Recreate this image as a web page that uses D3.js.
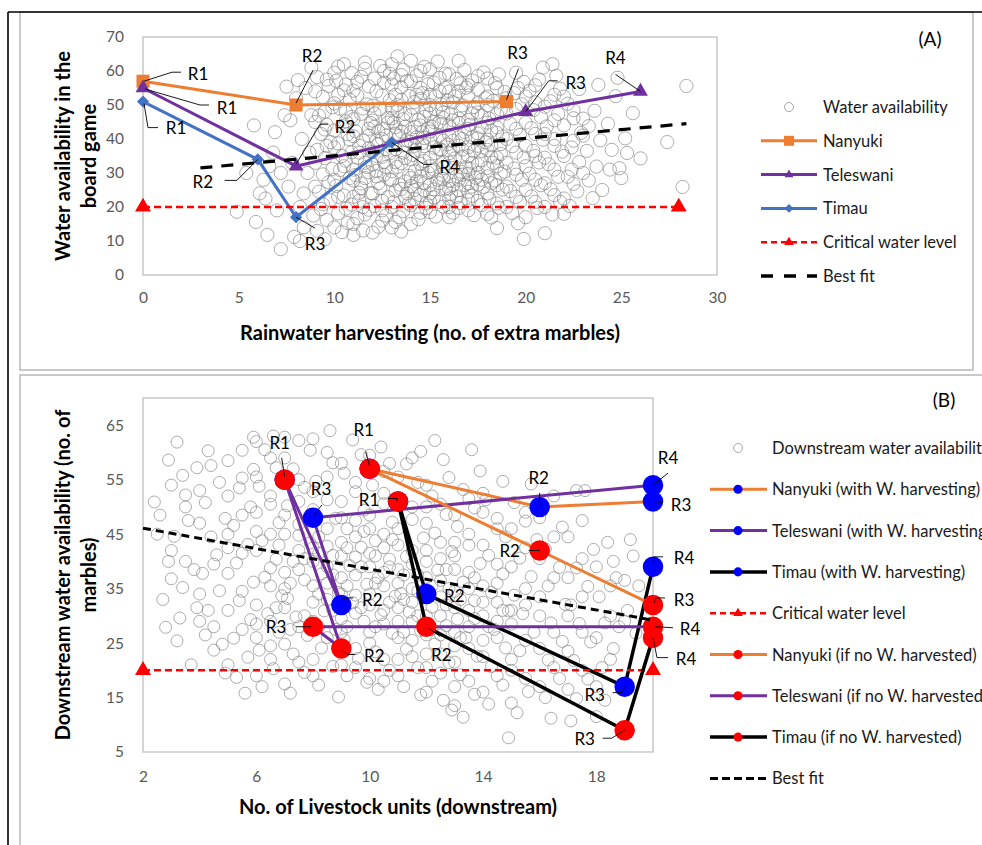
<!DOCTYPE html>
<html><head><meta charset="utf-8">
<script src="https://cdn.jsdelivr.net/npm/d3@7/dist/d3.min.js"></script>
<style>
html,body{margin:0;padding:0;background:#fff;overflow:hidden;}
svg{display:block;font-family:Lato,"Open Sans",sans-serif;}
</style></head><body>
<svg id="chart" width="982" height="845"></svg>
<script>
// ---------------- DATA ----------------
const scatterA = [
[4.9,18.6],[5.9,15.6],[6.5,11.8],[7.2,7.6],[7.9,11.2],[5.8,44],[6.1,24],[6.4,22.5],[7.5,55.4],[8.1,57.3],
[6.8,36],[7.2,30],[7.6,26],[8.2,20],[6.9,42],[7.4,47],[8.0,52],[8.4,14],[7.0,19],[7.8,33],
[8.3,40],[6.3,28],[7.7,45.5],[8.4,24],[8.6,30],[8.8,47],[8.7,36],[8.2,10],[6.6,32],[5.4,30],
[8.9,17.5],[8.5,55],[8.8,61],
[9.1,13],[9.6,16.2],[9.3,19.4],[9.8,22],[9.2,24.5],[9.7,27.3],[9.4,29.6],[9.9,31.2],[9.5,34.4],[9.1,36.8],
[9.8,39.1],[9.3,41.5],[9.6,44.2],[9.2,46.9],[9.9,49.3],[9.4,52.4],[9.7,55.6],[9.1,58.2],[10.2,61.3],
[10.4,12.6],[10.7,15.3],[10.2,18.1],[10.9,20.7],[10.5,23.4],[10.1,26.2],[10.8,28.5],[10.3,30.9],[10.6,33.6],[10.9,36.1],
[10.2,38.7],[10.7,41.4],[10.4,43.8],[10.9,46.5],[10.3,48.9],[10.8,51.6],[10.5,54.3],[10.1,57.1],[10.9,59.4],[10.5,62.0],
[11.5,13.1],[11.2,16.7],[11.8,19.2],[11.3,21.8],[11.9,24.1],[11.4,26.9],[11.1,29.4],[11.7,31.8],[11.2,34.5],[11.8,37.2],
[11.5,39.6],[11.1,42.3],[11.9,44.7],[11.4,47.4],[11.7,50.2],[11.2,52.8],[11.8,55.5],[11.4,58.3],[11.6,60.6],
[12.3,14.2],[12.7,17.5],[12.1,20.3],[12.8,22.9],[12.4,25.5],[12.9,28.1],[12.2,30.6],[12.6,33.2],[12.9,35.8],[12.3,38.4],
[12.7,41.0],[12.1,43.6],[12.8,46.2],[12.4,48.8],[12.9,51.4],[12.2,54.0],[12.6,56.6],[12.9,59.2],[12.4,61.5],
[13.2,15.6],[13.6,18.8],[13.1,21.4],[13.8,24.0],[13.4,26.6],[13.9,29.2],[13.3,31.8],[13.7,34.4],[13.2,37.0],[13.8,39.6],
[13.5,42.2],[13.1,44.8],[13.7,47.4],[13.3,50.0],[13.9,52.6],[13.5,55.2],[13.1,57.8],[13.6,60.4],[13.3,64.3],
[14.4,16.4],[14.8,19.7],[14.2,22.3],[14.7,24.9],[14.3,27.5],[14.9,30.1],[14.5,32.7],[14.1,35.3],[14.7,37.9],[14.3,40.5],
[14.9,43.1],[14.4,45.7],[14.8,48.3],[14.2,50.9],[14.6,53.5],[14.9,56.1],[14.3,58.7],[14.7,61.2],
[15.3,17.2],[15.7,20.1],[15.2,22.8],[15.8,25.4],[15.4,28.0],[15.1,30.6],[15.7,33.2],[15.3,35.8],[15.9,38.4],[15.5,41.0],
[15.1,43.6],[15.7,46.2],[15.3,48.8],[15.9,51.4],[15.5,54.0],[15.2,56.6],[15.8,59.2],[15.4,62.8],
[16.2,18.3],[16.6,21.2],[16.1,23.9],[16.8,26.5],[16.4,29.1],[16.9,31.7],[16.3,34.3],[16.7,36.9],[16.2,39.5],[16.8,42.1],
[16.5,44.7],[16.1,47.3],[16.7,49.9],[16.3,52.5],[16.9,55.1],[16.4,57.7],[16.5,63.0],[16.8,60.3],
[17.3,17.6],[17.7,20.6],[17.2,23.3],[17.8,25.9],[17.4,28.6],[17.1,31.2],[17.7,33.8],[17.3,36.4],[17.9,39.0],[17.5,41.6],
[17.1,44.2],[17.7,46.8],[17.3,49.4],[17.9,52.0],[17.5,54.6],[17.2,57.2],[17.8,59.6],
[18.2,16.9],[18.6,19.8],[18.1,22.5],[18.8,25.1],[18.4,27.8],[18.9,30.4],[18.3,33.0],[18.7,35.6],[18.2,38.2],[18.8,40.8],
[18.5,43.4],[18.1,46.0],[18.7,48.6],[18.3,51.2],[18.9,53.8],[18.4,56.4],[18.6,59.0],[18.5,13.8],
[19.3,18.2],[19.7,21.5],[19.2,24.7],[19.8,28.0],[19.4,31.3],[19.9,34.6],[19.3,37.9],[19.7,41.2],[19.2,44.5],[19.8,50.2],
[19.4,53.5],[19.9,56.8],[19.5,59.5],[19.9,10.6],[19.6,15.2],
[20.6,19.7],[20.3,23.1],[20.8,26.4],[20.2,29.8],[20.7,33.1],[20.4,36.5],[20.9,39.8],[20.3,43.2],[20.8,46.5],[20.5,50.8],
[20.2,54.2],[20.7,57.5],[21.0,12.3],[20.9,61],
[21.4,17.8],[21.8,21.5],[21.3,25.2],[21.7,28.9],[21.2,32.6],[21.9,36.3],[21.5,40.0],[21.1,43.7],[21.7,47.4],[21.3,51.1],
[21.8,54.8],[21.4,62],[21.6,58.6],
[22.3,20.3],[22.7,24.6],[22.2,28.9],[22.8,33.2],[22.4,37.5],[22.9,41.8],[22.5,46.1],[22.2,50.4],[22.8,54.7],[22.4,31],[22.0,18],
[23.3,27.8],[23.7,31.9],[23.3,43.8],[23.6,48.3],[23.8,55.9],[23.2,36.5],[24.0,25],[23.9,39.6],[23.5,22.6],
[24.4,31],[24.9,31.4],[25.3,35.9],[25.6,47.6],[24.7,52.6],[24.3,44.5],[25.0,28.5],[25.2,40.2],[24.5,36.8],[26.0,34.3],[24.8,58.0],
[27.4,39.1],[28.2,25.9],[28.4,55.6],
[11.0,27.8],[11.6,33.0],[12.0,36.2],[12.5,40.0],[12.0,45.4],[13.0,27.9],[13.5,32.9],[13.0,38.3],[13.4,40.9],[13.0,46.1],
[14.0,26.2],[14.5,29.0],[14.0,34.0],[14.0,39.2],[14.6,42.0],[14.0,47.0],[15.0,24.0],[15.5,27.0],[15.0,32.0],[15.6,36.8],
[15.0,40.0],[15.6,44.4],[15.0,50.0],[16.0,25.4],[16.5,28.0],[16.0,33.0],[16.5,38.0],[16.0,41.2],[16.5,46.0],[17.0,27.0],
[17.5,30.0],[17.0,35.0],[17.5,38.0],[17.0,43.0],[17.5,47.8],[18.0,29.0],[18.5,32.0],[18.0,36.8],[18.5,41.8],[18.0,44.8],
[10.5,32.0],[10.0,37.5],[10.6,45.2],[11.0,40.8],[12.3,27.0],[13.7,23.0],[14.8,21.0],[16.0,20.0],[17.0,22.0],[12.0,49.8],
[13.2,53.0],[14.5,51.8],[15.8,55.0],[16.2,50.8],[17.0,52.8],[18.0,50.0],[11.2,56.8],[10.0,50.5],[9.5,42.8],[9.0,33.0],
[10.2,23.0],[11.5,20.0],[12.5,16.0],[13.5,12.8],[11.0,11.8],[9.5,10.5],
[9.4,20.8],[9.0,26.0],[9.6,38.0],[9.0,45.0],[9.5,48.0],[9.0,54.0],[9.6,57.5],
[10.0,14.0],[10.6,19.5],[10.0,28.0],[10.4,35.0],[10.8,39.9],[10.0,42.5],[10.6,48.0],[10.2,53.0],[10.6,56.0],[10.0,59.5],
[11.0,15.0],[11.6,17.8],[11.0,23.0],[11.4,25.5],[11.6,28.5],[11.0,31.0],[11.3,36.0],[11.8,41.0],[11.0,45.8],[11.5,49.0],[11.0,54.2],[11.6,62.5],
[12.0,12.5],[12.5,19.0],[12.0,24.0],[12.6,29.5],[12.0,32.5],[12.5,34.8],[12.2,39.5],[12.6,43.0],[12.1,47.5],[12.5,52.8],[12.1,57.8],[12.6,60.0],
[13.0,14.0],[13.4,17.0],[13.0,20.0],[13.5,25.3],[13.0,30.5],[13.6,36.0],[13.2,43.5],[13.6,45.8],[13.0,49.0],[13.5,51.5],[13.0,56.0],[13.5,58.8],[13.0,62.0],
[14.0,15.0],[14.5,18.3],[14.0,20.5],[14.5,23.5],[14.0,28.5],[14.6,31.2],[14.2,36.6],[14.6,38.8],[14.0,42.0],[14.5,44.0],[14.1,49.2],[14.5,55.0],[14.0,57.0],[14.5,60.0],[14.0,63.0],
[15.0,18.5],[15.5,21.5],[15.0,26.5],[15.6,29.5],[15.0,34.5],[15.5,37.0],[15.0,42.2],[15.5,45.0],[15.0,47.5],[15.6,50.2],[15.0,53.0],[15.5,58.0],[15.0,60.5],
[16.0,17.0],[16.5,19.7],[16.0,22.5],[16.5,25.0],[16.0,27.8],[16.6,30.4],[16.0,35.8],[16.5,40.5],[16.0,44.0],[16.6,48.5],[16.0,54.0],[16.6,56.4],[16.0,59.0],
[17.0,19.0],[17.5,21.8],[17.0,24.5],[17.5,26.6],[17.0,29.8],[17.5,32.5],[17.0,37.6],[17.5,40.2],[17.0,45.6],[17.5,50.5],[17.0,55.8],[17.5,58.5],
[18.0,18.0],[18.5,21.0],[18.0,24.0],[18.5,26.4],[18.0,31.5],[18.5,34.5],[18.0,39.8],[18.5,47.2],[18.0,52.5],[18.5,55.0],[18.0,57.8],
[19.0,20.0],[19.5,23.0],[19.0,26.0],[19.5,29.5],[19.0,33.0],[19.5,36.0],[19.0,40.0],[19.5,43.0],[19.0,47.5],[19.5,48.8],[19.0,52.0],[19.6,55.0],
[20.0,17.0],[20.5,21.5],[20.0,25.0],[20.5,28.0],[20.0,32.0],[20.5,35.0],[20.0,38.0],[20.5,41.5],[20.0,44.8],[20.4,48.5],[20.0,52.5],[20.5,55.8],
[21.0,20.0],[21.5,23.5],[21.0,27.0],[21.5,31.0],[21.0,34.5],[21.5,38.0],[21.0,41.5],[21.5,45.5],[21.0,49.5],[21.5,53.0],
[22.0,22.5],[22.5,26.8],[22.0,35.0],[22.5,39.5],[22.0,44.0],[22.5,48.5],[22.0,52.5],[23.0,30.0],[23.0,41.0],[23.0,46.0],
[11.3,24.2],[11.8,30.2],[11.3,38.0],[11.8,43.0],[12.2,29.0],[12.7,31.8],[12.2,35.0],[12.7,37.0],[12.3,42.3],[12.8,44.8],
[13.2,24.8],[13.7,27.5],[13.2,33.2],[13.7,38.2],[13.2,41.5],[13.7,43.6],[13.3,48.2],[14.2,25.0],[14.7,27.0],[14.2,30.5],
[14.7,33.5],[14.2,38.0],[14.7,40.3],[14.2,43.5],[14.7,46.5],[15.2,25.2],[15.7,28.2],[15.2,31.0],[15.7,31.5],[15.2,37.5],
[15.7,39.5],[15.2,45.0],[15.7,47.8],[16.2,26.5],[16.7,29.5],[16.2,31.5],[16.7,34.8],[16.2,37.0],[16.7,40.0],[16.2,45.5],
[17.2,26.0],[17.7,28.0],[17.2,33.0],[17.7,36.5],[17.2,40.5],[17.7,43.5],[17.2,47.5],[18.2,27.0],[18.7,29.8],[18.2,34.8],
[18.7,38.5],[18.2,42.5],[13.9,21.0],[15.0,21.5],[16.4,23.0],[12.5,21.8],[14.3,53.0],[15.3,52.5],[16.5,54.0],[13.8,57.0]
];

const scatterB = [
[2.4,50.9],[2.6,48.5],[2.9,58.6],[2.8,27.9],[2.5,45],[2.9,40],[2.7,33],
[3.2,61.9],[3.4,55.8],[3.3,29.6],[3.7,21],[3.5,52.2],[3.1,44.6],[3.8,38.5],[3.4,35.2],[3.6,47.5],[3.9,57.2],[3.2,25.4],[3.9,31.5],
[4.5,23.7],[4.2,26.5],[4.8,24.8],[4.3,31.0],[4.7,34.6],[4.1,37.8],[4.6,41.2],[4.4,44.5],[4.9,47.9],[4.2,50.8],[4.7,54.5],[4.4,57.6],[4.9,19.5],[4.3,60.3],
[5.3,18.7],[5.7,22.4],[5.2,25.9],[5.8,29.3],[5.4,32.8],[5.9,36.2],[5.3,39.7],[5.7,43.1],[5.2,46.6],[5.8,50.0],[5.4,53.5],[5.9,56.9],[5.5,60.4],[5.9,62.8],[5.6,15.8],
[6.2,17.0],[6.6,20.3],[6.1,23.7],[6.8,27.0],[6.4,30.4],[6.9,33.7],[6.3,37.1],[6.7,40.4],[6.2,43.8],[6.8,47.1],[6.5,50.5],[6.1,53.8],[6.7,57.2],[6.3,60.5],[6.6,63.0],
[7.2,15.8],[7.7,19.6],[7.3,23.0],[7.8,26.4],[7.4,29.8],[7.1,33.2],[7.7,36.6],[7.3,40.0],[7.9,43.4],[7.5,46.8],[7.1,50.2],[7.7,53.6],[7.3,57.0],[7.9,60.4],[7.5,62.2],
[8.2,17.3],[8.7,20.7],[8.3,24.1],[8.8,27.5],[8.4,30.9],[8.9,34.3],[8.3,37.7],[8.7,41.1],[8.2,44.5],[8.8,47.9],[8.5,51.3],[8.1,54.7],[8.7,58.1],[8.6,64.0],[8.9,15.1],
[9.2,19.0],[9.6,22.2],[9.1,25.6],[9.8,29.0],[9.4,32.4],[9.9,35.8],[9.3,39.2],[9.7,42.6],[9.2,46.0],[9.8,49.4],[9.5,52.8],[9.1,56.2],[9.7,59.6],[9.9,17.8],[9.4,62.3],
[10.3,16.5],[10.7,20.0],[10.2,23.4],[10.8,26.8],[10.4,30.2],[10.9,33.6],[10.3,37.0],[10.7,40.4],[10.2,43.8],[10.8,47.2],[10.5,50.6],[10.1,54.0],[10.7,58.0],[10.4,61.0],
[11.2,17.0],[11.7,20.5],[11.3,23.9],[11.8,27.3],[11.4,30.7],[11.1,34.1],[11.7,37.5],[11.3,40.9],[11.9,44.3],[11.5,47.7],[11.1,51.1],[11.7,54.5],[11.3,57.9],[11.8,60.2],
[12.6,14.5],[12.9,12.7],[12.2,18.0],[12.8,21.4],[12.3,24.8],[12.7,28.2],[12.2,31.6],[12.8,35.0],[12.4,38.4],[12.9,41.8],[12.3,45.2],[12.7,48.6],[12.2,52.0],[12.8,55.4],[12.3,62.2],[12.6,58.7],
[13.3,11.4],[13.7,15.6],[13.2,19.2],[13.8,22.6],[13.4,26.0],[13.1,29.4],[13.7,32.8],[13.3,36.2],[13.9,39.6],[13.5,43.0],[13.1,46.4],[13.7,49.8],[13.3,53.2],[13.6,60.5],[13.9,56.6],
[14.2,13.8],[14.7,17.3],[14.3,20.7],[14.8,24.1],[14.4,27.5],[14.9,30.9],[14.3,34.3],[14.7,37.7],[14.2,41.1],[14.8,44.5],[14.5,47.9],[14.1,51.3],[14.7,54.7],[14.9,7.6],
[15.2,12.2],[15.0,20.0],[15.6,16.1],[15.3,23.6],[15.8,27.0],[15.4,30.4],[15.1,33.8],[15.7,37.2],[15.3,40.6],[15.9,44.0],[15.5,47.4],[15.1,50.8],[15.7,54.2],
[16.4,11.2],[16.2,15.0],[16.7,18.5],[16.3,21.9],[16.8,25.3],[16.4,28.7],[16.9,32.1],[16.3,35.5],[16.7,38.9],[16.8,46.3],[16.2,42.3],[16.5,52.0],
[17.1,10.7],[17.3,14.8],[17.7,18.4],[17.2,21.8],[17.8,25.2],[17.4,28.6],[17.1,32.0],[17.7,35.4],[17.3,38.8],[17.9,42.2],[17.3,53.0],[17.6,53.0],[17.5,47.5],
[18.3,28.7],[18.4,43.5],[18.5,30.0],[18.8,28.0],[18.2,20.5],[18.6,24.0],[18.1,33.5],[18.7,37.0],[18.3,14.5],[18.6,40.0],
[19.3,41.0],[19.4,26.8],[19.2,44.0],[19.1,31.0],[19.5,35.5],
[6.0,28.5],[6.5,35.5],[7.0,31.5],[7.5,38.5],[7.0,45.0],[8.0,32.5],[8.5,36.0],[8.0,40.0],[8.5,42.8],[8.0,49.5],
[9.0,27.0],[9.5,30.5],[9.0,34.0],[9.5,37.5],[9.0,41.0],[9.5,44.5],[9.0,48.0],[10.0,25.0],[10.5,28.5],[10.0,32.0],
[10.5,35.5],[10.0,39.0],[10.5,42.5],[10.0,46.0],[11.0,22.0],[11.5,25.5],[11.0,29.0],[11.5,32.5],[11.0,36.0],[11.5,39.5],
[11.0,43.0],[12.0,23.0],[12.5,26.5],[12.0,30.0],[12.5,33.5],[12.0,37.0],[12.5,40.5],[13.0,24.5],[13.5,28.0],[13.0,31.5],
[13.5,35.0],[13.0,38.5],[14.0,25.5],[14.5,29.0],[14.0,32.5],[14.5,36.0],[15.0,28.5],[15.5,32.0],[16.0,30.0],[6.0,45.5],
[7.5,51.0],[8.5,55.5],[10.5,56.5],[12.0,50.0],[14.0,49.0],[4.0,29.0],[5.0,42.5],[6.5,24.5],[8.0,22.0],[9.5,20.5],
[10.5,18.0],[11.8,15.5],[13.0,17.0],
[3.0,54.0],[3.5,50.0],[3.0,42.0],[3.5,40.0],[3.0,36.8],[4.0,34.0],[4.5,39.5],[4.0,53.0],[4.5,28.0],[4.0,47.0],
[5.0,21.0],[5.5,27.5],[5.0,31.0],[5.5,34.5],[5.0,37.8],[5.5,41.5],[5.0,45.0],[5.5,48.5],[5.0,52.0],[5.5,55.3],[5.0,58.5],
[6.0,19.0],[6.5,22.0],[6.0,26.0],[6.5,29.0],[6.0,32.0],[6.5,38.8],[6.0,42.0],[6.5,45.0],[6.0,49.0],[6.5,52.0],[6.0,55.5],[6.5,59.0],[6.0,62.0],
[7.0,17.5],[7.5,21.5],[7.0,24.8],[7.5,28.0],[7.0,35.0],[7.5,42.0],[7.0,38.0],[7.5,44.8],[7.0,48.5],[7.5,55.0],[7.0,59.0],[7.0,62.8],
[8.0,19.0],[8.5,26.0],[8.0,29.0],[8.5,33.0],[8.0,35.5],[8.5,39.0],[8.0,42.5],[8.5,46.0],[8.0,52.8],[8.5,60.0],[8.0,62.5],
[9.0,21.0],[9.5,24.0],[9.0,29.5],[9.5,33.8],[9.0,37.0],[9.5,40.8],[9.0,43.5],[9.5,47.5],[9.0,51.0],[9.5,54.5],[9.0,58.0],
[10.0,18.5],[10.5,22.0],[10.0,27.0],[10.5,31.0],[10.0,34.0],[10.5,38.0],[10.0,41.5],[10.5,45.0],[10.0,48.5],[10.5,52.5],[10.0,59.5],
[11.0,19.0],[11.5,22.5],[11.0,26.0],[11.5,29.0],[11.0,31.5],[11.5,35.0],[11.0,38.5],[11.5,42.0],[11.0,46.0],[11.5,50.0],[11.0,55.5],[11.5,59.0],
[12.0,16.0],[12.5,19.5],[12.0,20.5],[12.5,23.0],[12.0,26.5],[12.5,30.0],[12.0,33.5],[12.5,36.5],[12.0,40.0],[12.5,43.5],[12.0,47.0],[12.5,50.5],[12.0,54.0],
[13.0,13.5],[13.5,18.0],[13.0,21.5],[13.5,24.0],[13.0,27.0],[13.5,31.0],[13.0,34.5],[13.5,38.0],[13.0,41.0],[13.5,45.0],[13.0,48.5],[13.5,51.5],
[14.0,16.0],[14.5,19.0],[14.0,22.5],[14.5,26.0],[14.0,30.0],[14.5,32.5],[14.0,35.5],[14.5,39.5],[14.0,43.0],[14.5,46.0],[14.0,52.5],
[15.0,14.0],[15.5,18.5],[15.0,22.0],[15.5,25.5],[15.0,31.0],[15.5,35.0],[15.0,39.0],[15.5,42.5],[15.0,46.0],[15.5,49.0],
[16.0,17.0],[16.5,20.5],[16.0,24.0],[16.5,27.0],[16.0,33.5],[16.5,37.0],[16.0,40.5],[16.5,44.5],[16.0,48.0],
[17.0,16.5],[17.5,20.0],[17.0,23.5],[17.5,27.0],[17.0,30.0],[17.5,33.5],[17.0,37.0],[17.5,40.5],[17.0,44.5],
[18.0,17.0],[18.5,22.0],[18.0,26.0],[18.5,35.5],[18.0,39.0],[19.0,29.0],[19.0,36.5],[18.0,11.5],
[8.2,28.0],[8.7,31.0],[8.2,34.0],[8.7,37.5],[8.2,41.5],[9.2,28.0],[9.7,31.5],[9.2,35.5],[9.7,39.0],[9.2,42.5],
[10.2,28.0],[10.7,32.5],[10.2,36.0],[10.7,39.0],[10.2,41.0],[11.2,27.0],[11.7,30.0],[11.2,33.0],[11.7,34.5],[11.2,37.5],
[12.2,27.5],[12.7,32.0],[12.2,35.5],[12.7,38.5],[13.2,26.0],[13.7,29.5],[13.2,33.0],[13.7,37.0],[14.2,28.0],[14.7,31.0],
[7.2,27.5],[7.7,30.0],[7.2,36.0],[7.7,40.5],[6.7,31.5],[6.8,43.0],[9.8,45.5],[10.8,44.0],[12.0,42.0],[13.0,43.5]
];

// Panel A series (x = rainwater harvesting, y = water availability)
const nanyukiA   = [[0,57],[8,50],[19,51]];
const teleswaniA = [[0,55],[8,32],[20,48],[26,54]];
const timauA     = [[0,51],[6,34],[8,17],[13,39]];
const criticalA  = [[0,20],[28,20]];
const bestFitA   = [[3,31.5],[28.4,44.5]];

// Panel B series (x = livestock units, y = downstream water availability)
const nanyukiWithB   = [[10,57],[16,50],[20,51]];
const teleswaniWithB = [[7,55],[9,32],[8,48],[20,54]];
const timauWithB     = [[11,51],[12,34],[19,17],[20,39]];
const nanyukiNoB     = [[10,57],[16,42],[20,32]];
const teleswaniNoB   = [[7,55],[9,24],[8,28],[20,28]];
const timauNoB       = [[11,51],[12,28],[19,9],[20,26]];
const criticalB      = [[2,20],[20,20]];
const bestFitB       = [[2,46.1],[20,29.2]];

const roundLabels = ["R1","R2","R3","R4"];
const xTicksA = [0,5,10,15,20,25,30];
const yTicksA = [0,10,20,30,40,50,60,70];
const xTicksB = [2,6,10,14,18];
const yTicksB = [5,15,25,35,45,55,65];
const legendA = ["Water availability","Nanyuki","Teleswani","Timau","Critical water level","Best fit"];
const legendB = ["Downstream water availability","Nanyuki (with W. harvesting)","Teleswani (with W. harvesting)",
  "Timau (with W. harvesting)","Critical water level","Nanyuki (if no W. harvested)",
  "Teleswani (if no W. harvested)","Timau (if no W. harvested)","Best fit"];
const titlesA = {x:"Rainwater harvesting (no. of extra marbles)", y:["Water availability in the","board game"], tag:"(A)"};
const titlesB = {x:"No. of Livestock units (downstream)", y:["Downstream water availability (no. of","marbles)"], tag:"(B)"};

// ---------------- LAYOUT (label placement, pixels) ----------------
const labLayoutA = {
  nanyuki:   [{dx:55,dy:-8,l:[[1,0],[29,-9],[38,-9]]},{dx:16,dy:-50,l:[[0,-2],[17,-35]]},{dx:11,dy:-49,l:[[0,-2],[12,-33]]}],
  teleswani: [{dx:84,dy:19,l:[[2,1],[57,17],[66,17]]},{dx:49,dy:-40,l:[[0,-2],[24,-42],[32,-42]]},{dx:50,dy:-29,l:[[0,0],[23,-31],[32,-31]]},{dx:-25,dy:-34,l:[[0,0],[-25,-17]]}],
  timau:     [{dx:33,dy:26,l:[[1,2],[5,26],[15,26]]},{dx:-55,dy:22,l:[[0,0],[-21,21],[-33,21]]},{dx:19,dy:26,l:[[0,0],[19,11]]},{dx:58,dy:24,l:[[0,0],[32,22],[40,22]]}]
};
const labLayoutB = {
  nanyukiWith:   [{dx:-6,dy:-39,l:[[0,-3],[-4,-17]]},{dx:-1,dy:-29,l:[[0,-14],[0,0]]},{dx:28,dy:3,l:[[1,0],[10,1]]}],
  nanyukiNo:     [null,{dx:-30,dy:0,l:[[-11,0],[0,0]]},{dx:31,dy:-5,l:[[1,-2],[3,-7],[12,-7]]}],
  teleswaniWith: [{dx:-5,dy:-37,l:[[0,-3],[-3,-22]]},{dx:31,dy:-5,l:[[0,-5],[4,-7],[12,-7]]},{dx:8,dy:-29,l:[[1,-3],[9,-13]]},{dx:15,dy:-28,l:[[0,0],[15,-12]]}],
  teleswaniNo:   [null,{dx:33,dy:7,l:[[2,2],[6,6],[14,6]]},{dx:-37,dy:0,l:[[-17,0],[-2,0]]},{dx:37,dy:2,l:[[2,0],[20,1]]}],
  timauWith:     [{dx:-29,dy:-2,l:[[-10,-3],[-1,-3],[-1,0]]},{dx:28,dy:1,l:null},{dx:-30,dy:8,l:[[-12,6],[-3,6],[0,0]]},{dx:31,dy:-9,l:[[0,-4],[1,-10],[10,-10]]}],
  timauNo:       [null,{dx:15,dy:28,l:[[2,1],[14,10]]},{dx:-40,dy:8,l:[[-22,8],[-13,8],[0,0]]},{dx:33,dy:21,l:[[0,0],[4,20],[15,20]]}]
};

// ---------------- DRAWING ----------------
const svg = d3.select("#chart");
const C = {orange:"#ED7D31", purple:"#7030A0", blue:"#4472C4", red:"#FF0000", dblue:"#0000FF", black:"#000", gray:"#595959"};

svg.append("rect").attr("x",20).attr("y",12).attr("width",953).attr("height",358).attr("fill","none").attr("stroke","#A6A6A6").attr("stroke-width",1.2);
svg.append("rect").attr("x",20).attr("y",375).attr("width",980).attr("height",500).attr("fill","none").attr("stroke","#A6A6A6").attr("stroke-width",1.2);
svg.append("line").attr("x1",8).attr("x2",982).attr("y1",12).attr("y2",12).attr("stroke","#000").attr("stroke-width",1.6);
svg.append("line").attr("x1",8).attr("x2",8).attr("y1",12).attr("y2",845).attr("stroke","#000").attr("stroke-width",1.6);

function sym(g, type, cx, cy, size, color){
  const t = {square:d3.symbolSquare, triangle:d3.symbolTriangle, diamond:d3.symbolSquare, circle:d3.symbolCircle}[type];
  g.append("path").attr("d", d3.symbol().type(t).size(size)())
    .attr("transform", `translate(${cx},${cy})` + (type==="diamond"?" rotate(45)":""))
    .attr("fill", color);
}

function panel(cfg){
  const x = d3.scaleLinear().domain(cfg.xd).range([cfg.L, cfg.R]);
  const y = d3.scaleLinear().domain(cfg.yd).range([cfg.B, cfg.T]);
  const g = svg.append("g");
  g.append("rect").attr("x",cfg.L).attr("y",cfg.T).attr("width",cfg.R-cfg.L).attr("height",cfg.B-cfg.T)
    .attr("fill","none").attr("stroke","#BFBFBF").attr("stroke-width",1.3);
  const ax = g.append("g").attr("transform",`translate(0,${cfg.B})`)
    .call(d3.axisBottom(x).tickValues(cfg.xt).tickSize(0).tickPadding(cfg.xpad).tickFormat(d3.format("d")));
  const ay = g.append("g").attr("transform",`translate(${cfg.L},0)`)
    .call(d3.axisLeft(y).tickValues(cfg.yt).tickSize(0).tickPadding(19).tickFormat(d3.format("d")));
  [ax,ay].forEach(a=>{a.select(".domain").remove(); a.selectAll("text").attr("fill",C.gray).style("font-size","15.5px").style("font-family","Lato");});
  g.append("text").attr("x",(cfg.L+cfg.R)/2).attr("y",cfg.xTitleY).attr("text-anchor","middle")
    .style("font-weight","bold").style("font-size","20px").text(cfg.titles.x);
  cfg.titles.y.forEach((t,i)=>{
    g.append("text").attr("transform",`translate(${cfg.yTitleX[i]},${(cfg.T+cfg.B)/2}) rotate(-90)`)
      .attr("text-anchor","middle").attr("dominant-baseline","central")
      .style("font-weight","bold").style("font-size","20px").text(t);
  });
  g.append("text").attr("x",cfg.tag[0]).attr("y",cfg.tag[1]).attr("text-anchor","middle").attr("dominant-baseline","central")
    .style("font-size","19px").text(cfg.titles.tag);
  g.append("g").selectAll("circle").data(cfg.scatter).join("circle")
    .attr("cx",d=>x(d[0])).attr("cy",d=>y(d[1])).attr("r",cfg.sr)
    .attr("fill","none").attr("stroke","#7a7a7a").attr("stroke-opacity",0.62).attr("stroke-width",1);
  const line = d3.line().x(d=>x(d[0])).y(d=>y(d[1]));
  const labelsG = [];
  cfg.series.forEach(s=>{
    const sg = g.append("g");
    sg.append("path").attr("d",line(s.data)).attr("fill","none").attr("stroke",s.color)
      .attr("stroke-width",s.w).attr("stroke-dasharray",s.dash||null).attr("stroke-linejoin","round");
    if(s.marker){
      s.data.forEach(d=>sym(sg, s.marker, x(d[0]), y(d[1]), s.msize, s.mcolor));
    }
    if(s.labels){
      s.data.forEach((d,i)=>{
        const lay = s.labels[i]; if(!lay) return;
        labelsG.push({px:x(d[0]), py:y(d[1]), lay, text:roundLabels[i]});
      });
    }
  });
  const lg = g.append("g");
  labelsG.forEach(o=>{
    if(o.lay.l){
      lg.append("polyline").attr("points", o.lay.l.map(p=>[o.px+p[0],o.py+p[1]].join(",")).join(" "))
        .attr("fill","none").attr("stroke","#000").attr("stroke-width",0.9);
    }
    lg.append("text").attr("x",o.px+o.lay.dx).attr("y",o.py+o.lay.dy).attr("text-anchor","middle")
      .attr("dominant-baseline","central").style("font-size","17px").text(o.text);
  });
  const leg = g.append("g");
  cfg.legend.forEach((name,i)=>{
    const ly = cfg.legY0 + i*cfg.legDy;
    const it = cfg.legItems[i];
    if(it.type==="scatter"){
      leg.append("circle").attr("cx",cfg.legMx).attr("cy",ly).attr("r",4.5).attr("fill","none").attr("stroke","#A6A6A6").attr("stroke-width",1);
    } else {
      leg.append("line").attr("x1",cfg.legX1).attr("x2",cfg.legX2).attr("y1",ly).attr("y2",ly)
        .attr("stroke",it.color).attr("stroke-width",it.w).attr("stroke-dasharray",it.dash||null);
      if(it.marker) sym(leg, it.marker, cfg.legMx, ly, it.msize, it.mcolor);
    }
    leg.append("text").attr("x",cfg.legTx).attr("y",ly).attr("dominant-baseline","central")
      .attr("fill","#1a1a1a").style("font-size","16.5px").text(name);
  });
}

panel({
  xd:[0,30], yd:[0,70], L:143, R:717, T:37, B:275, xt:xTicksA, yt:yTicksA, xpad:17,
  titles:titlesA, xTitleY:340, yTitleX:[62,88], tag:[930,38],
  scatter:scatterA, sr:6.6,
  series:[
    {data:nanyukiA, color:C.orange, w:3, marker:"square", msize:170, mcolor:C.orange, labels:labLayoutA.nanyuki},
    {data:teleswaniA, color:C.purple, w:3, marker:"triangle", msize:95, mcolor:C.purple, labels:labLayoutA.teleswani},
    {data:timauA, color:C.blue, w:3, marker:"diamond", msize:75, mcolor:C.blue, labels:labLayoutA.timau},
    {data:criticalA, color:C.red, w:2.6, dash:"7,4", marker:"triangle", msize:110, mcolor:C.red},
    {data:bestFitA, color:C.black, w:3.2, dash:"12,9"}
  ],
  legend:legendA, legY0:107, legDy:33.8, legMx:789, legX1:761, legX2:817, legTx:823,
  legItems:[
    {type:"scatter"},
    {color:C.orange, w:3, marker:"square", msize:100, mcolor:C.orange},
    {color:C.purple, w:3, marker:"triangle", msize:35, mcolor:C.purple},
    {color:C.blue, w:3, marker:"diamond", msize:40, mcolor:C.blue},
    {color:C.red, w:2.6, dash:"6,4", marker:"triangle", msize:40, mcolor:C.red},
    {color:C.black, w:3.5, dash:"12,11"}
  ]
});

panel({
  xd:[2,20], yd:[5,70], L:143, R:653, T:398, B:752, xt:xTicksB, yt:yTicksB, xpad:19,
  titles:titlesB, xTitleY:814, yTitleX:[62,88], tag:[944,399],
  scatter:scatterB, sr:6,
  series:[
    {data:nanyukiWithB, color:C.orange, w:3, marker:"circle", msize:330, mcolor:C.dblue, labels:labLayoutB.nanyukiWith},
    {data:teleswaniWithB, color:C.purple, w:3, marker:"circle", msize:330, mcolor:C.dblue, labels:labLayoutB.teleswaniWith},
    {data:timauWithB, color:C.black, w:3.5, marker:"circle", msize:330, mcolor:C.dblue, labels:labLayoutB.timauWith},
    {data:criticalB, color:C.red, w:2.6, dash:"7,4", marker:"triangle", msize:110, mcolor:C.red},
    {data:nanyukiNoB, color:C.orange, w:3, marker:"circle", msize:330, mcolor:C.red, labels:labLayoutB.nanyukiNo},
    {data:teleswaniNoB, color:C.purple, w:3, marker:"circle", msize:330, mcolor:C.red, labels:labLayoutB.teleswaniNo},
    {data:timauNoB, color:C.black, w:3.5, marker:"circle", msize:330, mcolor:C.red, labels:labLayoutB.timauNo},
    {data:bestFitB, color:C.black, w:3, dash:"8,5"}
  ],
  legend:legendB, legY0:448, legDy:41.3, legMx:738, legX1:710, legX2:767, legTx:772,
  legItems:[
    {type:"scatter"},
    {color:C.orange, w:3, marker:"circle", msize:65, mcolor:C.dblue},
    {color:C.purple, w:3, marker:"circle", msize:65, mcolor:C.dblue},
    {color:C.black, w:3.5, marker:"circle", msize:65, mcolor:C.dblue},
    {color:C.red, w:2.6, dash:"6,4", marker:"triangle", msize:40, mcolor:C.red},
    {color:C.orange, w:3, marker:"circle", msize:65, mcolor:C.red},
    {color:C.purple, w:3, marker:"circle", msize:65, mcolor:C.red},
    {color:C.black, w:3.5, marker:"circle", msize:65, mcolor:C.red},
    {color:C.black, w:3, dash:"8,4"}
  ]
});
</script>
</body></html>
